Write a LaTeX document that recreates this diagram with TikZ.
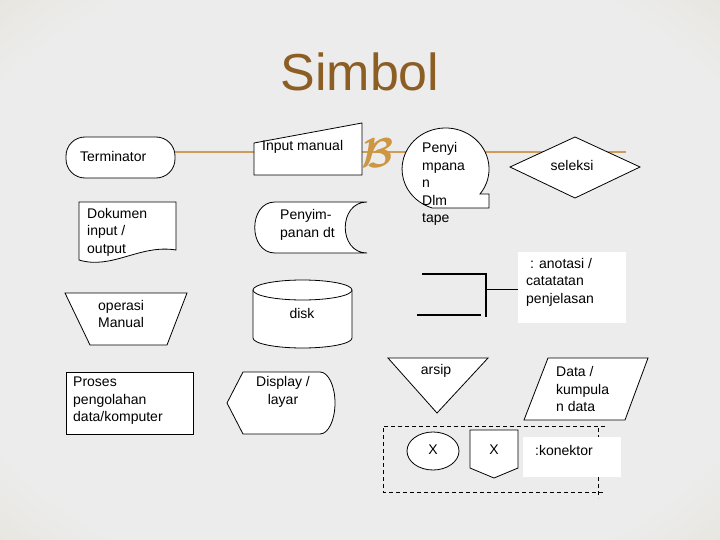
\documentclass[tikz,border=0pt]{standalone}
\usepackage{fontspec}
\setmainfont{Liberation Sans}
\usepackage{bm}
\definecolor{bgin}{RGB}{236,236,236}
\definecolor{bgout}{RGB}{218,215,192}
\definecolor{titlec}{RGB}{140,94,36}
\definecolor{linec}{RGB}{208,156,92}
\definecolor{ornc}{RGB}{204,150,66}
\pgfdeclareradialshading{bgshade}{\pgfpoint{0bp}{0bp}}{color(0bp)=(bgin); color(30bp)=(bgin); color(50bp)=(bgout); color(100bp)=(bgout)}
\begin{document}
\begin{tikzpicture}[x=1pt,y=-1pt, font=\fontsize{14}{17.5}\selectfont,
  shp/.style={draw=black, fill=white, line width=0.8pt},
  txt/.style={inner sep=0pt, align=left, anchor=west},
  ctxt/.style={inner sep=0pt, align=center},
  dash line/.style={draw=black, line width=0.8pt, dash pattern=on 4pt off 3pt}]
\path[use as bounding box, shading=bgshade] (0,0) rectangle (720,540);

% title
\node[font=\fontsize{52}{52}\selectfont, text=titlec, inner sep=0pt] (title) at (360,72) {Simbol};

% terminator and orange rule
\node[shp, rounded corners=19pt, minimum width=109pt, minimum height=41pt, inner sep=0pt] (term) at (120.5,157.5) {};
\coordinate (lineend) at (626,152.5);
\draw[linec, line width=2pt] ([yshift=5pt]term.east) -- (lineend);
\node[txt] (termt) at (80,156) {Terminator};

% input manual
\draw[shp] (254,143) -- (362,123) -- (362,175) -- (254,175) -- cycle;
\node[txt] (inman) at (262,147) {Input manual};

% ornament
\node[text=ornc, scale=2.9, inner sep=0pt] (orn) at (378,153) {$\bm{\mathcal{B}}$};

% tape storage
\draw[shp] (480,194) arc[start angle=37.6, end angle=-252, x radius=43.5, y radius=41] -- (489,208) -- (489,194) -- cycle;
\node[txt] (tape) at (422,184) {Penyi\\mpana\\n\\Dlm\\tape};

% seleksi
\draw[shp] (510,167) -- (575,137) -- (640,167) -- (575,198) -- cycle;
\node[ctxt] (sel) at (572,165) {seleksi};

% dokumen
\draw[shp] (79,202) -- (176,202) -- (176,250) .. controls (140,244) and (112,270) .. (79,260) -- cycle;
\node[txt] (dok) at (87,232) {Dokumen\\input /\\output};

% stored data
\draw[shp] (275,202) -- (367,202) .. controls (338,202) and (338,253) .. (367,253) -- (275,253) .. controls (248,253) and (248,202) .. (275,202) -- cycle;
\node[txt] (stor) at (280,225) {Penyim-\\panan dt};

% operasi manual
\draw[shp] (65,293) -- (187,293) -- (167,345) -- (90,345) -- cycle;
\node[txt] (opm) at (98,314) {operasi\\Manual};

% disk
\draw[shp] (253,290) -- (253,338) arc[start angle=180, end angle=0, x radius=49.5, y radius=10] -- (352,290);
\draw[shp] (302.5,290) ellipse [x radius=49.5, y radius=10];
\node[ctxt] (disk) at (302,313) {disk};

% annotation
\fill[white] (518,252) rectangle (626,323);
\draw[line width=1.1pt] (422,274) -- (486,274) -- (486,317);
\draw[line width=1.1pt] (417,315) -- (481,315);
\draw[line width=0.6pt] (486,289) -- (518,289);
\node[txt] (anot) at (526,282) {~: anotasi /\\catatatan\\penjelasan};

% proses
\draw[shp] (66,372) rectangle (193,434);
\node[txt] (pros) at (73,401) {Proses\\pengolahan\\data/komputer};

% display
\draw[shp] (227,403) -- (243,372) -- (320,372) arc[start angle=-90, end angle=90, x radius=15, y radius=31] -- (243,434) -- cycle;
\node[ctxt] (disp) at (283,392) {Display /\\layar};

% arsip
\draw[shp] (388,358) -- (488,358) -- (437,413) -- cycle;
\node[ctxt] (arsip) at (436,371) {arsip};

% data
\draw[shp] (548,358) -- (648,358) -- (625,420) -- (524,420) -- cycle;
\node[txt] (data) at (556,389) {Data /\\kumpula\\n data};

% connectors
\draw[dash line] (605,426) -- (383,426) -- (383,492) -- (605,492);
\draw[dash line] (598,428) -- (598,498);
\draw[shp] (433,451) ellipse [x radius=26, y radius=19];
\node[ctxt] (cx1) at (433,450) {X};
\draw[shp] (470,430) -- (518,430) -- (518,468) -- (494,478) -- (470,468) -- cycle;
\node[ctxt] (cx2) at (494,450) {X};
\fill[white] (523,437) rectangle (621,477);
\node[txt] (kon) at (535,450) {:konektor};
\end{tikzpicture}
\end{document}
